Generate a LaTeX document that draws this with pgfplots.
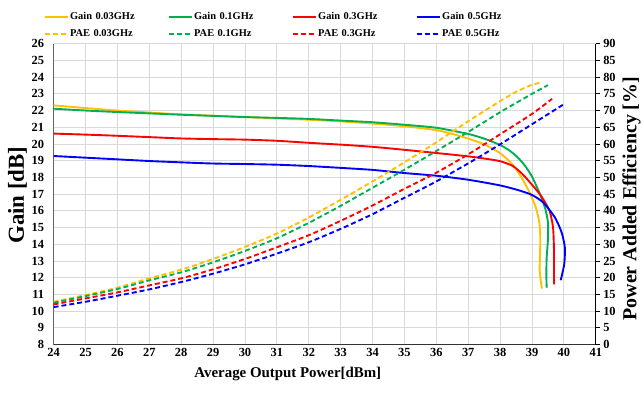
\documentclass[border=0pt]{standalone}
\usepackage{fontspec}
\setmainfont{Liberation Serif}
\usepackage{pgfplots}
\pgfplotsset{compat=1.18}
\definecolor{cY}{HTML}{FFC000}
\definecolor{cG}{HTML}{00B050}
\definecolor{cR}{HTML}{FF0000}
\definecolor{cB}{HTML}{0000FF}
\pgfplotsset{
  base/.style={scale only axis, width=546pt, height=303pt, xmin=24, xmax=41, clip=false,
    /pgf/number format/assume math mode=true,
    tick label style={font=\fontsize{12.5}{14}\selectfont\bfseries}},
  gl/.style={line width=1.9pt, smooth, tension=0.4},
  pl/.style={line width=1.9pt, smooth, tension=0.4, dash pattern=on 5pt off 3pt},
}
\begin{document}
\begin{tikzpicture}
\begin{axis}[base, name=g, ymin=8, ymax=26,
  xtick={24,...,41}, ytick={8,...,26},
  grid=major, major grid style={draw=black!15, line width=0.8pt},
  axis x line*=bottom, axis y line*=left,
  x axis line style={black!80, line width=0.8pt, -},
  y axis line style={black!60, line width=0.8pt, -},
  tick style={draw=none},
  yticklabel style={xshift=-6pt},
  xlabel={Average Output Power[dBm]},
  ylabel={Gain [dB]},
  xlabel style={font=\fontsize{15}{18}\selectfont\bfseries, at={(axis description cs:0.432,-0.099)}, anchor=center},
  ylabel style={font=\fontsize{23}{26}\selectfont\bfseries, at={(axis description cs:-0.0668,0.497)}, anchor=center},
]
\path (axis description cs:-0.0989,-0.1584) rectangle (axis description cs:1.0806,1.1452);
% Gain 0.03 GHz
\addplot[gl, cY] coordinates {(24,22.31)(25,22.15)(26,22.00)(27,21.88)(28,21.77)(29,21.69)(30,21.61)(31,21.53)(32,21.45)(33,21.35)(34,21.22)(35,21.06)(36,20.83)(36.5,20.6)(37,20.32)(37.5,19.98)(38,19.45)(38.4,18.75)(38.7,17.9)(38.95,17.0)(39.12,16.2)(39.23,15.3)(39.26,14.4)(39.25,13.3)(39.24,12.5)(39.27,11.9)(39.31,11.35)};
% Gain 0.1 GHz
\addplot[gl, cG] coordinates {(24,22.11)(25,22.0)(26,21.91)(27,21.83)(28,21.75)(29,21.68)(30,21.61)(31,21.56)(32,21.5)(33,21.4)(34,21.3)(35,21.15)(36,20.97)(37,20.6)(37.5,20.32)(38,19.94)(38.3,19.6)(38.55,19.2)(38.78,18.7)(39.0,18.05)(39.25,17.0)(39.42,16.1)(39.5,15.3)(39.5,14.3)(39.46,13.2)(39.45,12.2)(39.46,11.4)};
% Gain 0.3 GHz
\addplot[gl, cR] coordinates {(24,20.62)(25,20.56)(26,20.49)(27,20.41)(28,20.33)(29,20.29)(30,20.26)(31,20.19)(32,20.07)(33,19.96)(34,19.83)(35,19.65)(36,19.46)(37,19.26)(37.5,19.13)(38,18.97)(38.4,18.68)(38.7,18.2)(39.05,17.45)(39.3,16.85)(39.55,16.0)(39.66,15.0)(39.69,13.6)(39.69,12.5)(39.69,11.6)};
% Gain 0.5 GHz
\addplot[gl, cB] coordinates {(24,19.28)(25,19.18)(26,19.08)(27,18.98)(28,18.9)(29,18.83)(30,18.8)(31,18.76)(32,18.68)(33,18.57)(34,18.45)(35,18.26)(36,18.1)(37,17.86)(38,17.52)(38.6,17.22)(39.0,16.95)(39.35,16.5)(39.72,15.6)(39.93,14.7)(40.03,13.8)(40.01,12.8)(39.9,11.85)};
\end{axis}
\begin{axis}[base, ymin=0, ymax=90,
  xtick=\empty, xticklabels={},
  axis x line=none, axis y line*=right,
  y axis line style={black, line width=0.8pt, -},
  ytick={0,5,...,90},
  ytick style={draw=black, line width=0.8pt},
  tick align=outside, major tick length=4pt,
  ylabel={Power Added Efficiency [\%]},
  ylabel style={font=\fontsize{20}{24}\selectfont\bfseries, at={(axis description cs:1.066,0.485)}, anchor=center},
  legend columns=4,
  legend cell align=left,
  legend image code/.code={\draw[#1] (0pt,0pt) -- (23pt,0pt);},
  legend style={draw=none, fill=none, inner sep=0pt,
    at={(axis description cs:-0.0183,1.1097)}, anchor=north west,
    font=\fontsize{10.5}{12}\selectfont\bfseries,
    nodes={inner sep=1.5pt, text height=7.5pt, text depth=2pt, text width=97pt, align=left},
    row sep=4.5pt},
]
\addlegendimage{gl, cY}\addlegendentry{Gain 0.03GHz}
\addlegendimage{gl, cG}\addlegendentry{Gain 0.1GHz}
\addlegendimage{gl, cR}\addlegendentry{Gain 0.3GHz}
\addlegendimage{gl, cB}\addlegendentry{Gain 0.5GHz}
% PAE 0.03 GHz
\addplot[pl, cY] coordinates {(24,12.8)(25,14.8)(26,17.0)(27,19.8)(28,22.4)(29,25.6)(30,29.2)(31,33.2)(32,38.0)(33,43.3)(34,48.8)(35,54.5)(36,60.5)(37,66.8)(38,72.8)(38.5,75.6)(39,77.7)(39.25,78.3)};
\addlegendentry{PAE 0.03GHz}
% PAE 0.1 GHz
\addplot[pl, cG] coordinates {(24,12.5)(25,14.5)(26,16.6)(27,19.2)(28,21.6)(29,24.6)(30,28.0)(31,31.8)(32,36.4)(33,41.5)(34,46.9)(35,52.3)(36,57.9)(37,63.6)(38,69.5)(39,75.0)(39.5,77.6)};
\addlegendentry{PAE 0.1GHz}
% PAE 0.3 GHz
\addplot[pl, cR] coordinates {(24,12.0)(25,13.8)(26,15.6)(27,17.7)(28,19.8)(29,22.5)(30,25.6)(31,29.1)(32,32.7)(33,37.0)(34,41.6)(35,46.6)(36,51.4)(37,56.9)(38,62.9)(39,69.0)(39.63,73.5)};
\addlegendentry{PAE 0.3GHz}
% PAE 0.5 GHz
\addplot[pl, cB] coordinates {(24,11.2)(25,12.8)(26,14.6)(27,16.5)(28,18.7)(29,21.2)(30,24.0)(31,27.2)(32,30.6)(33,34.6)(34,39.0)(35,43.9)(36,48.8)(37,54.2)(38,59.9)(39,65.9)(40,71.9)};
\addlegendentry{PAE 0.5GHz}
\end{axis}
\end{tikzpicture}
\end{document}
